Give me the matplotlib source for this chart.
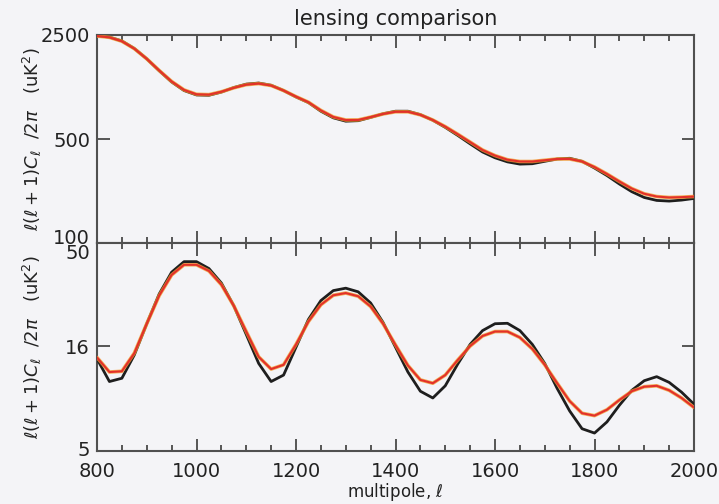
import numpy as np
import matplotlib
matplotlib.use("Agg")
import matplotlib.pyplot as plt
import matplotlib.transforms as mtransforms
from matplotlib.ticker import FixedLocator, MultipleLocator, NullLocator

# multipole grid
ell = [800, 825, 850, 875, 900, 925, 950, 975, 1000, 1025, 1050, 1075, 1100,
       1125, 1150, 1175, 1200, 1225, 1250, 1275, 1300, 1325, 1350, 1375, 1400,
       1425, 1450, 1475, 1500, 1525, 1550, 1575, 1600, 1625, 1650, 1675, 1700,
       1725, 1750, 1775, 1800, 1825, 1850, 1875, 1900, 1925, 1950, 1975, 2000]

# top panel (temperature)
top_black = [2470, 2420, 2280, 2030, 1730, 1440, 1210, 1060, 990, 985, 1035,
             1110, 1170, 1190, 1150, 1060, 960, 880, 770, 695, 660, 665, 700,
             740, 770, 770, 730, 670, 600, 530, 465, 410, 375, 352, 340, 342,
             355, 368, 372, 355, 320, 285, 250, 222, 203, 194, 192, 195, 200]
top_red = [2460, 2410, 2270, 2025, 1730, 1445, 1220, 1070, 1000, 995, 1040,
           1105, 1160, 1180, 1145, 1060, 965, 885, 780, 705, 672, 673, 703,
           738, 763, 763, 728, 672, 607, 540, 478, 423, 388, 364, 354, 354,
           361, 368, 368, 354, 325, 292, 260, 233, 215, 206, 203, 204, 206]

# bottom panel (polarization)
bot_black = [13.9, 10.8, 11.2, 14.5, 20.5, 28.5, 36.3, 40.8, 40.8, 37.8, 32.2,
             25.0, 18.2, 13.2, 10.8, 11.6, 15.8, 21.5, 26.5, 29.6, 30.4, 29.2,
             25.8, 20.8, 15.8, 12.0, 9.7, 9.0, 10.3, 13.1, 16.3, 19.0, 20.5,
             20.6, 19.0, 16.3, 13.2, 10.0, 7.8, 6.4, 6.1, 6.9, 8.3, 9.8, 10.9,
             11.4, 10.7, 9.6, 8.4]
bot_red = [14.1, 12.0, 12.1, 14.8, 20.5, 28.0, 35.2, 39.4, 39.4, 36.8, 31.6,
           25.0, 18.8, 14.2, 12.4, 13.0, 16.3, 21.0, 25.3, 28.1, 28.8, 27.8,
           24.8, 20.5, 16.2, 12.9, 11.0, 10.6, 11.6, 13.7, 16.0, 17.9, 18.8,
           18.8, 17.6, 15.5, 13.0, 10.6, 8.7, 7.6, 7.4, 7.9, 8.8, 9.7, 10.2,
           10.3, 9.8, 9.0, 8.1]

top_yticks = [100, 500, 2500]
bot_yticks = [5, 16, 50]
xticks = [800, 1000, 1200, 1400, 1600, 1800, 2000]

bg = '#f4f4f7'
ink = '#3a3a3a'
txt = '#222222'

fig = plt.figure(figsize=(7.19, 5.04), dpi=100, facecolor=bg)
left, right = 97 / 719, 694 / 719
w = right - left
ax1 = fig.add_axes([left, 1 - 243.3 / 504, w, (243.3 - 35) / 504])
ax2 = fig.add_axes([left, 1 - 451 / 504, w, (451 - 243.3) / 504])

for ax, yb, yr, yt, ylim in [(ax1, top_black, top_red, top_yticks, (100, 2500)),
                             (ax2, bot_black, bot_red, bot_yticks, (5, 50))]:
    ax.set_facecolor(bg)
    ax.plot(ell, yb, color='#1e1e1e', lw=2.0, solid_joinstyle='round',
            solid_capstyle='round', zorder=3)
    ax.plot(ell, yr, color='#f29a2e', lw=2.6, solid_joinstyle='round',
            solid_capstyle='round', zorder=4, alpha=0.8)
    ax.plot(ell, yr, color='#e3302a', lw=1.5, solid_joinstyle='round',
            solid_capstyle='round', zorder=5)
    ax.set_yscale('log')
    ax.set_xlim(800, 2000)
    ax.set_ylim(*ylim)
    ax.yaxis.set_major_locator(FixedLocator(yt))
    ax.yaxis.set_minor_locator(NullLocator())
    ax.set_yticklabels([str(v) for v in yt])
    ax.xaxis.set_major_locator(FixedLocator(xticks))
    ax.xaxis.set_minor_locator(MultipleLocator(50))
    ax.tick_params(which='both', direction='in', top=True, right=True,
                   color=ink, labelcolor=txt, labelsize=14, width=1.2)
    ax.tick_params(which='major', length=9)
    ax.tick_params(axis='y', which='major', pad=5)
    ax.tick_params(axis='x', which='major', pad=8)
    ax.tick_params(which='minor', length=4)
    for s in ax.spines.values():
        s.set_color('#505050')
        s.set_linewidth(1.5)
    ax.set_ylabel(r'$\ell(\ell+1)C_\ell$  /2$\pi$   (uK$^2$)', fontsize=13,
                  color=txt)
    ax.yaxis.set_label_coords(-0.088, 0.5)

ax1.tick_params(labelbottom=False)
ax2.set_xticks(xticks)
ax2.set_xticklabels([str(v) for v in xticks])
ax2.set_xlabel(r'multipole, $\ell$', fontsize=12, color=txt, labelpad=0)
ax1.set_title('lensing comparison', fontsize=15, color=txt, pad=7)

# nudge the coinciding "100" / "50" labels apart slightly
px = fig.dpi_scale_trans
lab100 = ax1.get_yticklabels()[0]
lab100.set_transform(lab100.get_transform() +
                     mtransforms.ScaledTranslation(0, 7 / 100, px))
lab50 = ax2.get_yticklabels()[-1]
lab50.set_transform(lab50.get_transform() +
                    mtransforms.ScaledTranslation(0, -8 / 100, px))
lab5 = ax2.get_yticklabels()[0]
lab5.set_transform(lab5.get_transform() +
                   mtransforms.ScaledTranslation(0, 2 / 100, px))

fig.savefig('out.png', dpi=100, facecolor=bg)
